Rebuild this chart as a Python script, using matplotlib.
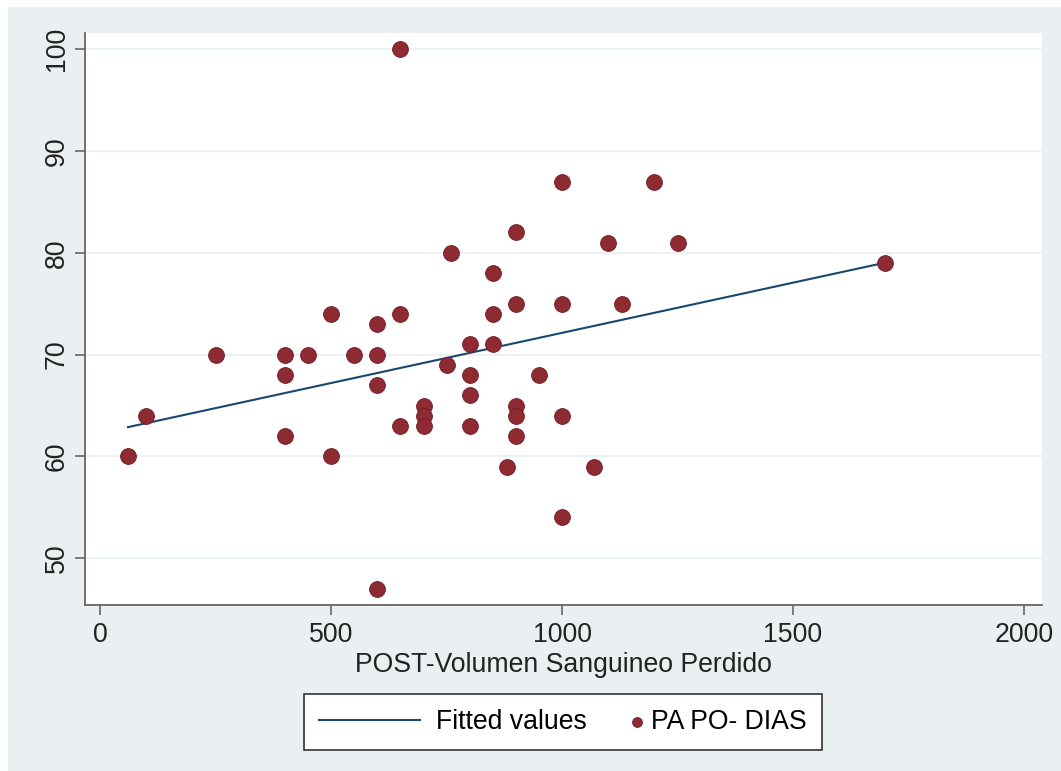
import numpy as np
import matplotlib
matplotlib.use("Agg")
import matplotlib.pyplot as plt
import matplotlib.patches as mpatches
from matplotlib.legend_handler import HandlerPathCollection

plt.rcParams['font.family'] = ['Liberation Sans', 'DejaVu Sans']

# blood volume lost (x) vs diastolic pressure (y)
vol = [60, 100, 250, 400, 400, 400, 450, 500, 500, 550,
       600, 600, 600, 600, 650, 650, 650, 700, 700, 700,
       750, 760, 800, 800, 800, 800, 850, 850, 850, 880,
       900, 900, 900, 900, 900, 950, 1000, 1000, 1000, 1000,
       1070, 1100, 1130, 1200, 1250, 1700]
pas = [60, 64, 70, 70, 68, 62, 70, 74, 60, 70,
       73, 70, 67, 47, 100, 74, 63, 65, 64, 63,
       69, 80, 71, 68, 66, 63, 78, 74, 71, 59,
       82, 75, 65, 64, 62, 68, 87, 75, 64, 54,
       59, 81, 75, 87, 81, 79]

xticks = [0, 500, 1000, 1500, 2000]
yticks = [50, 60, 70, 80, 90, 100]

bg = '#EAF0F2'
navy = '#1A476F'
maroon = '#8E2A31'
fs = 19.2


# legend dot sits right next to its label (like Stata)
class DotRight(HandlerPathCollection):
    def get_xdata(self, legend, xdescent, ydescent, width, height, fontsize):
        xd = [-xdescent, -xdescent + width]
        return xd, [-xdescent + width + 0.05 * fontsize]


fig = plt.figure(figsize=(10.61, 7.71), dpi=100, facecolor=bg)
# thin white frame on left/top like the screenshot
fig.patches.append(mpatches.Rectangle((0, 0), 8/1061, 1, transform=fig.transFigure,
                                      facecolor='white', edgecolor='none', zorder=0))
fig.patches.append(mpatches.Rectangle((0, 1 - 7/771), 1, 7/771, transform=fig.transFigure,
                                      facecolor='white', edgecolor='none', zorder=0))

ax = fig.add_axes([85/1061, 1 - 605/771, (1042-85)/1061, (605-33)/771])
ax.set_facecolor('white')

# linear fit
b, a = np.polyfit(vol, pas, 1)
xf = np.array([min(vol), max(vol)])
ax.plot(xf, a + b*xf, color=navy, linewidth=1.5, label='Fitted values', zorder=3)
sc = ax.scatter(vol, pas, s=130, color=maroon, edgecolors='#6E1E24', linewidths=0.6,
                label='PA PO- DIAS', zorder=4)

ax.set_xlim(-33, 2039)
ax.set_ylim(45.4, 101.6)
ax.set_xticks(xticks)
ax.set_yticks(yticks)
ax.set_yticklabels([str(t) for t in yticks], rotation=90, va='center')
ax.tick_params(axis='both', labelsize=fs, color='#666666', length=7, width=1.2,
               labelcolor='#222222')
ax.tick_params(axis='x', pad=5)
ax.tick_params(axis='y', pad=4)
ax.grid(axis='y', color='#EAF2F3', linewidth=1.5)
ax.set_axisbelow(True)
for s in ['top', 'right']:
    ax.spines[s].set_visible(False)
for s in ['left', 'bottom']:
    ax.spines[s].set_color('#666666')
    ax.spines[s].set_linewidth(1.3)

ax.set_xlabel('POST-Volumen Sanguineo Perdido', fontsize=fs, color='#222222', labelpad=3)

leg = fig.legend(loc='center', bbox_to_anchor=(563/1061, 1 - 722/771), ncol=2,
                 fontsize=fs, frameon=True, fancybox=False, edgecolor='#333333',
                 facecolor='white', framealpha=1,
                 handlelength=3.8, handletextpad=0.6, columnspacing=-2.0,
                 borderpad=0.55, markerscale=0.62,
                 handler_map={sc: DotRight()})
leg.get_frame().set_linewidth(1.2)

fig.savefig('out.png', dpi=100, facecolor=bg)
